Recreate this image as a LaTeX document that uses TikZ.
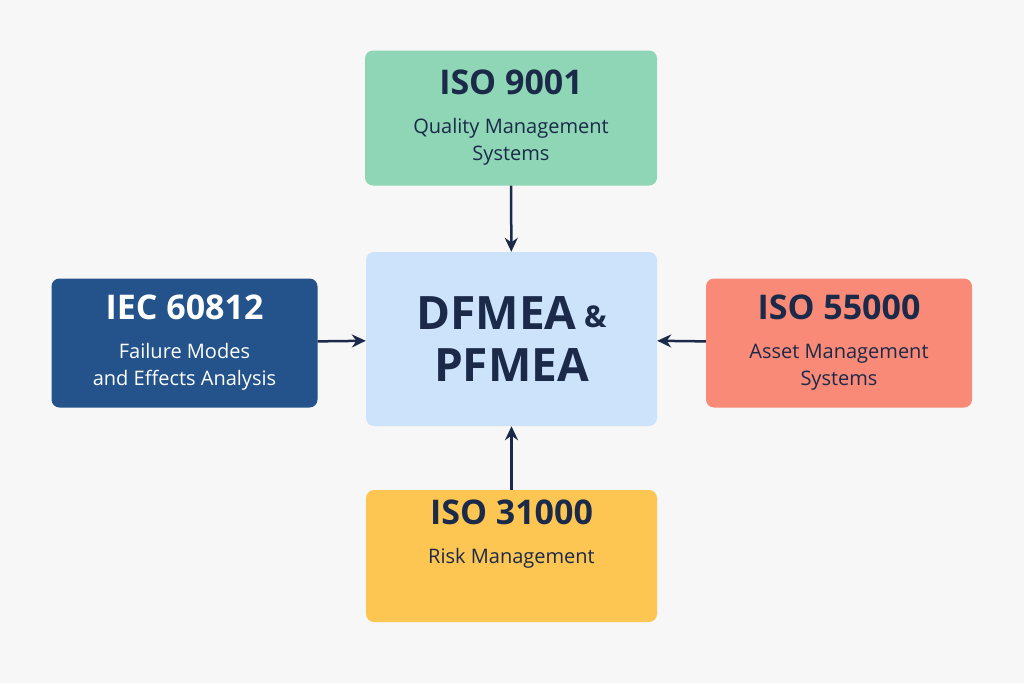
\documentclass[tikz,border=0pt]{standalone}
\usepackage{fontspec}
\setmainfont{Open Sans}
\usetikzlibrary{arrows.meta,positioning}
\definecolor{bgcol}{HTML}{F7F7F7}
\definecolor{ink}{HTML}{1B2A48}
\definecolor{isoA}{HTML}{8ED6B6}
\definecolor{isoB}{HTML}{23538A}
\definecolor{isoC}{HTML}{F98A78}
\definecolor{isoD}{HTML}{FDC653}
\definecolor{core}{HTML}{CCE3FB}
\newcommand{\stdttl}[1]{{\fontsize{34}{40}\selectfont\bfseries #1}}
\tikzset{
  std/.style={rounded corners=8pt,minimum width=266pt,minimum height=130pt,
    align=center,text=ink,inner sep=0pt,font=\fontsize{20}{27}\selectfont},
  link/.style={draw=ink,line width=2.5pt,-{Stealth[length=14pt,width=13pt]}}
}
\begin{document}
\begin{tikzpicture}[x=1pt,y=-1pt]
\fill[bgcol] (0,0) rectangle (1024,683);
% the centre box
\node[std,fill=core,minimum width=291pt,minimum height=174pt,
  font=\fontsize{46}{54}\selectfont\bfseries] (fmea) at (511.5,339)
  {DFMEA\,\raisebox{2pt}{\fontsize{30}{30}\selectfont\&}\\[-2pt]PFMEA};
% the four standards
\node[std,fill=isoA,minimum width=292pt,minimum height=135pt] (iso9) at (511,118)
  {\stdttl{ISO 9001}\\[12pt]Quality Management\\Systems};
\node[std,fill=isoB,text=white,minimum height=129pt] (iec) at (184.5,343)
  {\stdttl{IEC 60812}\\[12pt]Failure Modes\\and Effects Analysis};
\node[std,fill=isoC,minimum height=129pt] (iso55) at (839,343)
  {\stdttl{ISO 55000}\\[12pt]Asset Management\\Systems};
\node[std,fill=isoD,minimum width=291pt,minimum height=132pt] (iso31) at (511.5,556)
  {\stdttl{ISO 31000}\\[12pt]Risk Management\\[22pt]};
% arrows into the centre
\draw[link] (iso9) -- (fmea);
\draw[link] (iec) -- (fmea);
\draw[link] (iso55) -- (fmea);
\draw[link] (iso31) -- (fmea);
\end{tikzpicture}
\end{document}
